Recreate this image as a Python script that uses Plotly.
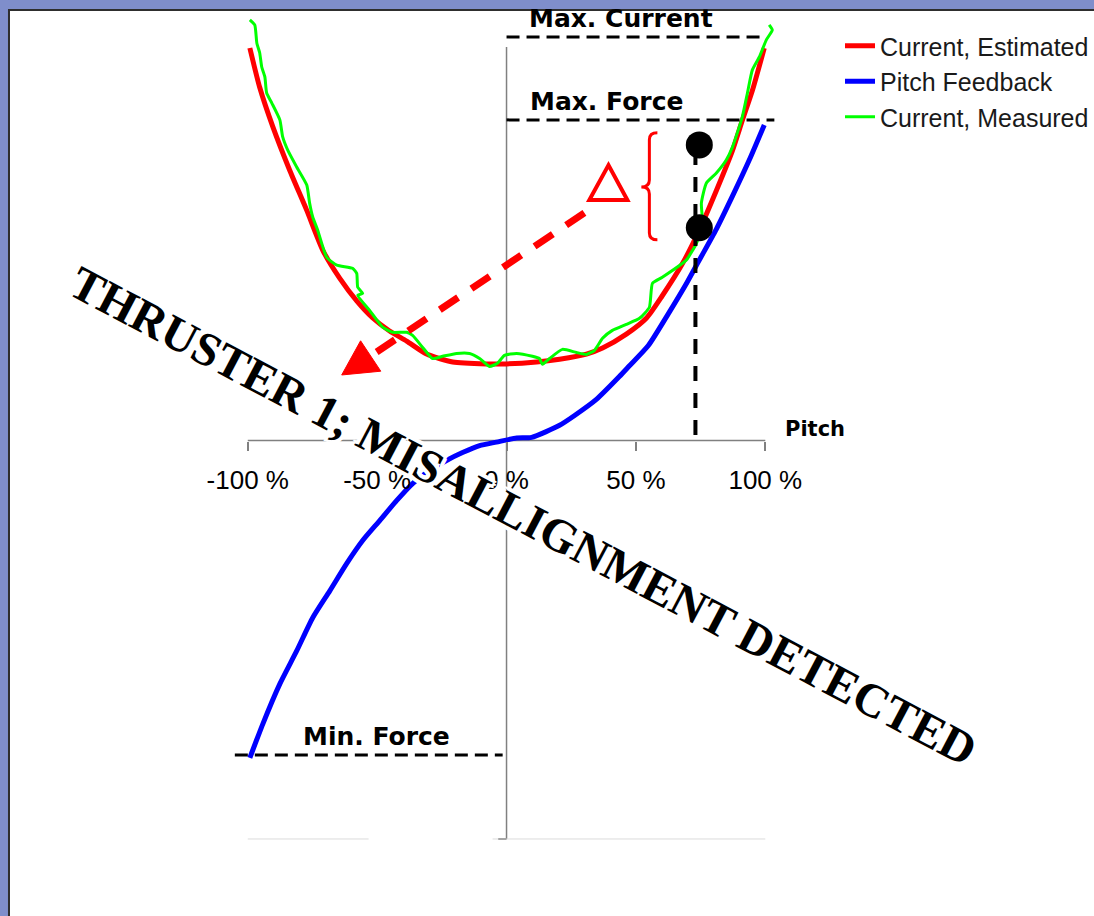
import plotly.graph_objects as go

# ---------------- data ----------------
est_x = [-99.2, -95.4, -90.3, -83.8, -77.2, -71.0, -64.5, -57.9, -51.7, -45.2, -38.6, -30.9,
         -20.8, -7.7, 0.0, 11.6, 20.5, 30.9, 37.1, 46.3, 54.1, 60.0, 68.0, 74.5, 81.1, 87.3,
         91.1, 95.0, 99.6]
est_y = [124.0, 111.6, 99.1, 85.4, 72.7, 60.1, 51.3, 44.1, 38.7, 34.6, 31.4, 27.3,
         24.8, 24.2, 24.2, 24.8, 25.7, 27.3, 29.2, 33.6, 38.7, 45.5, 55.9, 66.5, 79.0, 91.6,
         101.1, 110.6, 124.0]

pitch_x = [-99.2, -94.2, -87.6, -81.1, -74.9, -68.3, -61.8, -55.6, -49.0, -42.5, -36.3, -29.7,
           -23.2, -17.0, -10.4, -3.9, 3.9, 9.7, 20.5, 26.3, 34.6, 43.6, 47.5, 54.8, 62.5, 69.8,
           74.5, 81.1, 87.3, 93.8, 99.6]
pitch_y = [-100.3, -89.6, -76.9, -66.5, -56.0, -47.5, -38.9, -31.6, -25.3, -19.0, -13.6, -9.5,
           -6.3, -3.8, -1.6, -0.5, 0.8, 1.0, 4.8, 7.9, 12.9, 20.2, 23.6, 30.0, 40.0, 50.0,
           57.0, 66.8, 77.2, 88.6, 99.7]

meas_x = [-99.2, -97.3, -96.5, -95.4, -94.6, -93.4, -92.7, -90.7, -87.6, -86.5, -84.6, -81.1,
          -77.2, -76.1, -74.9, -73.0, -69.5, -65.6, -59.5, -57.9, -57.5, -55.6, -57.5, -52.9,
          -47.9, -44.0, -38.6, -36.3, -32.4, -28.6, -24.7, -19.3, -14.3, -10.4, -6.6, -3.5,
          -0.8, 3.9, 10.0, 12.7, 13.9, 16.6, 21.6, 27.0, 30.9, 34.0, 37.1, 40.9, 46.3, 51.4,
          55.2, 56.4, 60.2, 68.0, 69.5, 73.4, 75.7, 75.3, 77.2, 81.1, 84.9, 87.3, 91.1, 93.1,
          95.0, 97.7, 100.4, 102.7, 101.5]
meas_y = [132.9, 131.3, 125.6, 122.5, 118.0, 114.9, 109.8, 106.6, 101.3, 95.9, 91.8, 86.4,
          80.7, 75.0, 70.6, 66.5, 57.9, 55.4, 54.4, 52.8, 48.4, 46.5, 45.9, 41.1,
          35.8, 34.2, 34.2, 33.2, 29.4, 25.9, 26.6, 27.5, 27.5, 25.9, 23.4, 24.4,
          26.9, 27.5, 26.6, 25.9, 24.1, 25.9, 28.8, 27.8, 27.2, 28.5, 32.3, 34.8, 36.7, 38.6,
          42.1, 49.7, 51.6, 56.0, 57.0, 62.3, 68.7, 75.0, 81.3, 84.5, 88.6, 92.7, 102.2, 109.8,
          117.1, 121.2, 126.6, 129.7, 131.3]

limit_names = ["Max. Current", "Max. Force", "Min. Force"]
limit_values = [127.5, 101.3, -99.4]
limit_x_from = [0.0, 0.0, -105.0]
limit_x_to = [100.0, 103.5, -1.5]

op_pitch = 74.5
op_values = [93.4, 67.2]       # measured / estimated at the operating pitch
op_line_x = 73.0
op_line_y = [91.8, 1.1]

tick_vals = [-100, -50, 0, 50, 100]
tick_text = ["-100 %", "-50 %", "0 %", "50 %", "100 %"]

# ---------------- figure ----------------
fig = go.Figure()

fig.add_trace(go.Scatter(x=est_x, y=est_y, mode="lines", name="Current, Estimated",
                         line=dict(color="#ff0000", width=5, shape="spline", smoothing=0.6)))
fig.add_trace(go.Scatter(x=pitch_x, y=pitch_y, mode="lines", name="Pitch Feedback",
                         line=dict(color="#0000ff", width=5, shape="spline", smoothing=0.6)))
fig.add_trace(go.Scatter(x=meas_x, y=meas_y, mode="lines", name="Current, Measured",
                         line=dict(color="#00ff00", width=3, shape="spline", smoothing=0.5)))

for v, a, b in zip(limit_values, limit_x_from, limit_x_to):
    fig.add_trace(go.Scatter(x=[a, b], y=[v, v], mode="lines", showlegend=False, hoverinfo="skip",
                             line=dict(color="black", width=3, dash="13px,7px")))

fig.add_trace(go.Scatter(x=[op_line_x, op_line_x], y=op_line_y, mode="lines", showlegend=False,
                         hoverinfo="skip", line=dict(color="black", width=4, dash="15px,12px")))
fig.add_trace(go.Scatter(x=[op_pitch] * len(op_values), y=op_values, mode="markers",
                         showlegend=False, hoverinfo="skip",
                         marker=dict(color="black", size=27)))

shapes = [
    # white slide panel
    dict(type="rect", xref="paper", yref="paper", x0=9 / 1094, x1=1.02, y0=-0.02, y1=1 - 10 / 916,
         fillcolor="white", line=dict(color="#2e2e2e", width=2), layer="below"),
    # axis lines
    dict(type="line", xref="x", yref="y", x0=-100, x1=100, y0=0, y1=0,
         line=dict(color="#808080", width=1.5), layer="below"),
    dict(type="line", xref="x", yref="y", x0=0, x1=0, y0=124.3, y1=-125.9,
         line=dict(color="#808080", width=1.5), layer="below"),
    dict(type="line", xref="x", yref="y", x0=-3.2, x1=0, y0=-125.9, y1=-125.9,
         line=dict(color="#404040", width=1.5), layer="below"),
    dict(type="line", xref="x", yref="y", x0=-100, x1=-53.3, y0=-125.9, y1=-125.9,
         line=dict(color="#dcdcdc", width=1), layer="below"),
    dict(type="line", xref="x", yref="y", x0=-5.4, x1=100, y0=-125.9, y1=-125.9,
         line=dict(color="#dcdcdc", width=1), layer="below"),
    # red dashed arrow shaft
    dict(type="line", xref="x", yref="y", x0=30.1, y0=71.9, x1=-52.5, y1=26.7,
         line=dict(color="#ff0000", width=7, dash="22px,16px"), layer="above"),
    # arrow head
    dict(type="path", xref="x", yref="y", path="M -63.7,20.7 L -48.6,21.9 L -56.4,31.5 Z",
         fillcolor="#ff0000", line=dict(color="#ff0000", width=1), layer="above"),
    # delta triangle
    dict(type="path", xref="x", yref="y", path="M 32.0,76.0 L 46.7,76.0 L 39.4,87.0 Z",
         fillcolor="rgba(0,0,0,0)", line=dict(color="#ff0000", width=4), layer="above"),
    # brace
    dict(type="path", xref="x", yref="y",
         path="M 58.3,97.2 Q 55.2,97.2 55.2,95.0 L 55.2,82.3 Q 55.2,80.1 52.1,80.1 "
              "Q 55.2,80.1 55.2,77.9 L 55.2,65.6 Q 55.2,63.4 58.3,63.4",
         line=dict(color="#ff0000", width=3), layer="above"),
]

label_font = dict(family="DejaVu Sans", size=25, color="black", weight="bold")
halo = ", ".join(f"white {dx}px {dy}px 0" for dx, dy in
                 [(4, 0), (-4, 0), (0, 4), (0, -4), (3, 3), (-3, 3), (3, -3), (-3, -3)])

annotations = [
    dict(x=44.4, y=133.2, text=limit_names[0], font=label_font),
    dict(x=38.6, y=107.1, text=limit_names[1], font=label_font),
    dict(x=-50.4, y=-93.5, text=limit_names[2], font=label_font),
    dict(x=119.3, y=3.6, text="Pitch", font=dict(family="DejaVu Sans", size=21, color="black",
                                                   weight="bold")),
    dict(x=6.4, y=-23.9, text="THRUSTER 1; MISALLIGNMENT DETECTED", textangle=27.8,
         font=dict(family="Liberation Serif", size=47.5, color="black", weight="bold",
                   shadow=halo)),
]
for a in annotations:
    a.update(xref="x", yref="y", showarrow=False, xanchor="center", yanchor="middle")

fig.update_layout(
    width=1094, height=916,
    margin=dict(l=0, r=0, t=0, b=0, pad=0),
    paper_bgcolor="#7f8ecb",
    plot_bgcolor="rgba(0,0,0,0)",
    shapes=shapes,
    annotations=annotations,
    showlegend=True,
    legend=dict(x=841 / 1094, y=1 - 23 / 916, xanchor="left", yanchor="top",
                font=dict(family="Liberation Sans", size=25, color="#1a1a1a"),
                bgcolor="rgba(0,0,0,0)", borderwidth=0),
    xaxis=dict(range=[-195.75, 226.64], showgrid=False, zeroline=False, showline=False,
               anchor="free", position=1 - 440.5 / 916,
               tickmode="array", tickvals=tick_vals, ticktext=tick_text,
               ticks="outside", ticklen=9, tickcolor="#808080", tickwidth=1.5,
               ticklabelstandoff=7,
               tickfont=dict(family="Liberation Sans", size=26, color="black")),
    yaxis=dict(range=[-150.24, 139.18], visible=False),
)

fig.write_html("out.html", config={"displayModeBar": False},
               post_script="document.body.style.margin='0';document.body.style.overflow='hidden';")
